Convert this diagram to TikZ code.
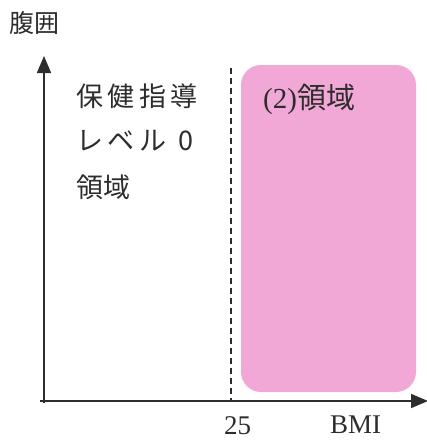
\documentclass[tikz,border=0pt]{standalone}
\usepackage{fontspec}
\setmainfont{Liberation Serif}
\newfontfamily\jp{Noto Sans CJK JP}
\usetikzlibrary{arrows.meta}
\definecolor{pinkfill}{RGB}{242,168,214}
\definecolor{ink}{RGB}{45,45,45}
\tikzset{
  axis/.style={line width=1.6pt, draw=ink, -{Triangle[length=17pt,width=14pt]}},
  lbl/.style={text=ink, inner sep=0pt, anchor=north west},
}
\begin{document}
\begin{tikzpicture}[x=1pt,y=-1pt]
\useasboundingbox (0,0) rectangle (427,444);
\fill[pinkfill, rounded corners=20pt] (241,65) rectangle (416,392);
\coordinate (o) at (44,402);
\coordinate (ytop) at (44,56);
\coordinate (xend) at (428,401);
\coordinate (dtop) at (231,68);
\coordinate (dbot) at (231,400);
\draw[ink, line width=1.6pt, dash pattern=on 6pt off 4pt] (dtop) -- (dbot);
\draw[axis] (44,403) -- (ytop);
\draw[axis] (40,401) -- (xend);
\node[lbl, font=\jp\fontsize{25}{25}\selectfont] (yl) at (9,11) {腹囲};
\node[lbl, font=\jp\fontsize{27}{27}\selectfont, align=left] (t1) at (76,84) {保\,健\,指\,導};
\node[lbl, font=\jp\fontsize{27}{27}\selectfont] (t2) at (76,130) {レ\,ベ\,ル\ \ 0};
\node[lbl, font=\jp\fontsize{27}{27}\selectfont] (t3) at (76,175) {領域};
\node[lbl, font=\fontsize{29}{29}\selectfont] (r2) at (263,84) {(2)\jp 領域};
\node[lbl, font=\fontsize{27}{27}\selectfont] (n25) at (224,416) {25};
\node[lbl, font=\fontsize{27}{27}\selectfont] (bmi) at (330,416) {BMI};
\end{tikzpicture}
\end{document}
